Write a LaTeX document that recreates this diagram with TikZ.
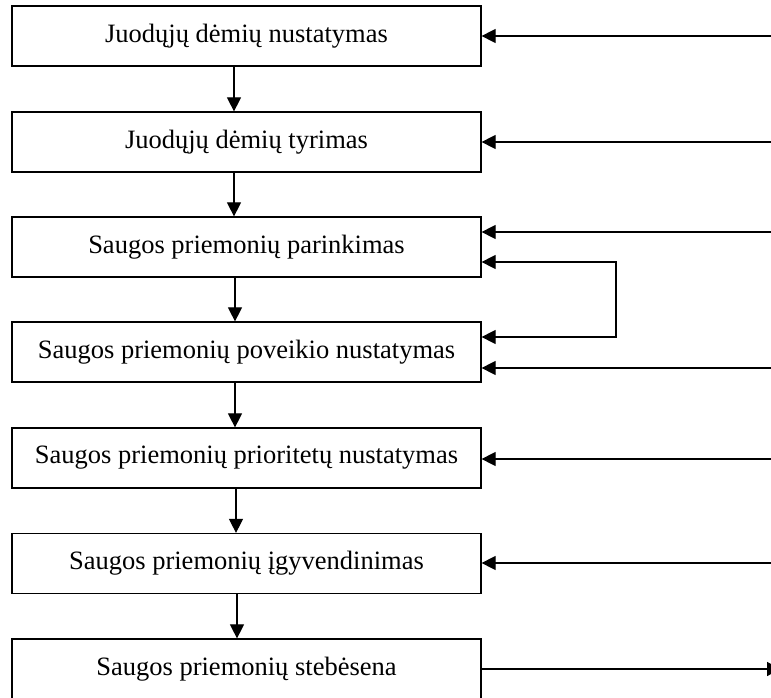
\documentclass[tikz,border=0pt]{standalone}
\usepackage{fontspec}
\setmainfont{Liberation Serif}
\usetikzlibrary{arrows.meta}
\begin{document}
\begin{tikzpicture}[x=1pt,y=1pt,
  stepbox/.style={draw, line width=1.2pt, minimum width=469pt, minimum height=60pt, inner sep=0pt,
    font=\fontsize{26.5}{30}\selectfont},
  conn/.style={line width=1.1pt, -{Triangle[length=14pt,width=14pt]}},
  both/.style={line width=1.1pt, {Triangle[length=14pt,width=14pt]}-{Triangle[length=14pt,width=14pt]}}]
\clip (0,0) rectangle (771,697);
\fill[white] (0,0) rectangle (771,697);
\node[stepbox] (b1) at (246.5,661) {Juodųjų dėmių nustatymas};
\node[stepbox] (b2) at (246.5,555) {Juodųjų dėmių tyrimas};
\node[stepbox] (b3) at (246.5,450) {Saugos priemonių parinkimas};
\node[stepbox] (b4) at (246.5,345) {Saugos priemonių poveikio nustatymas};
\node[stepbox] (b5) at (246.5,239) {Saugos priemonių prioritetų nustatymas};
\node[stepbox] (b6) at (246.5,133.5) {Saugos priemonių įgyvendinimas};
\node[stepbox] (b7) at (246.5,28) {Saugos priemonių stebėsena};
% vertical arrows
\coordinate (v1) at (234,0);
\coordinate (v2) at (234,0);
\coordinate (v3) at (235,0);
\coordinate (v4) at (235,0);
\coordinate (v5) at (236,0);
\coordinate (v6) at (237,0);
\draw[conn] (b1.south -| v1) -- (b2.north -| v1);
\draw[conn] (b2.south -| v2) -- (b3.north -| v2);
\draw[conn] (b3.south -| v3) -- (b4.north -| v3);
\draw[conn] (b4.south -| v4) -- (b5.north -| v4);
\draw[conn] (b5.south -| v5) -- (b6.north -| v5);
\draw[conn] (b6.south -| v6) -- (b7.north -| v6);
% right inputs
\coordinate (r1) at (772,661);
\coordinate (r2) at (772,555);
\coordinate (r3) at (772,465);
\coordinate (r4) at (772,329);
\coordinate (r5) at (772,238);
\coordinate (r6) at (772,134);
\draw[conn] (r1) -- (b1.east |- r1);
\draw[conn] (r2) -- (b2.east |- r2);
\draw[conn] (r3) -- (b3.east |- r3);
\draw[conn] (r4) -- (b4.east |- r4);
\draw[conn] (r5) -- (b5.east |- r5);
\draw[conn] (r6) -- (b6.east |- r6);
% loop between b3 and b4
\coordinate (la) at (616,435);
\coordinate (lb) at (616,360);
\draw[both] (b3.east |- la) -- (la) -- (lb) -- (b4.east |- lb);
% output
\coordinate (out) at (781,28);
\draw[conn] (b7.east) -- (out);
\end{tikzpicture}
\end{document}
